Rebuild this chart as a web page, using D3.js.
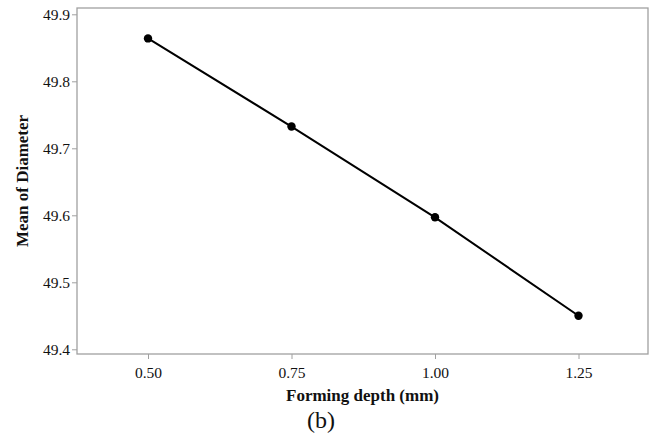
<!DOCTYPE html>
<html lang="en">
<head>
	<meta charset="utf-8">
	<title>Main effect plot</title>
	<script src="https://d3js.org/d3.v7.min.js"></script>
	<style>
		body { margin: 0; background: #fff; }
		svg text { font-family: "Liberation Serif", "Times New Roman", serif; fill: #111; }
	</style>
</head>
<body>
	<div id="chart"></div>
	<script>
		// forming depth levels and the mean diameter
		const depths = [0.50, 0.75, 1.00, 1.25];
		const meanDiameter = [49.864, 49.7325, 49.597, 49.45];
		const xTicks = ["0.50", "0.75", "1.00", "1.25"];
		const yTicks = [49.4, 49.5, 49.6, 49.7, 49.8, 49.9];

		const width = 657, height = 436;
		const frame = { left: 77, top: 8, right: 648, bottom: 354 };

		const svg = d3.select("#chart").append("svg")
			.attr("width", width)
			.attr("height", height);

		const x = d3.scaleLinear().domain([0.5, 1.25]).range([148, 578.5]);
		const y = d3.scaleLinear().domain([49.4, 49.9]).range([349.3, 14.3]);

		// plot frame
		svg.append("rect")
			.attr("x", frame.left)
			.attr("y", frame.top)
			.attr("width", frame.right - frame.left)
			.attr("height", frame.bottom - frame.top)
			.attr("fill", "none")
			.attr("stroke", "#a0a0a0")
			.attr("stroke-width", 1.3);

		const xAxis = svg.append("g")
			.attr("transform", `translate(0,${frame.bottom})`)
			.call(d3.axisBottom(x).tickValues(depths).tickFormat((d, i) => xTicks[i]).tickSize(5).tickPadding(8));
		const yAxis = svg.append("g")
			.attr("transform", `translate(${frame.left},0)`)
			.call(d3.axisLeft(y).tickValues(yTicks).tickFormat(d3.format(".1f")).tickSize(5).tickPadding(2));

		[xAxis, yAxis].forEach(g => {
			g.attr("font-family", null);
			g.select(".domain").remove();
			g.selectAll(".tick line").attr("stroke", "#a0a0a0");
			g.selectAll(".tick text")
				.attr("font-size", 15.5)
				.attr("fill", "#111");
		});

		const pts = depths.map((d, i) => ({ x: d, y: meanDiameter[i] }));

		svg.append("path")
			.datum(pts)
			.attr("fill", "none")
			.attr("stroke", "#000")
			.attr("stroke-width", 2)
			.attr("d", d3.line().x(d => x(d.x)).y(d => y(d.y)));

		svg.append("g")
			.selectAll("circle")
			.data(pts)
			.join("circle")
			.attr("cx", d => x(d.x))
			.attr("cy", d => y(d.y))
			.attr("r", 4.2)
			.attr("fill", "#000");

		svg.append("text")
			.attr("x", (frame.left + frame.right) / 2)
			.attr("y", 401)
			.attr("text-anchor", "middle")
			.attr("font-weight", "bold")
			.attr("font-size", 17)
			.text("Forming depth (mm)");

		svg.append("text")
			.attr("transform", `translate(28,${(frame.top + frame.bottom) / 2}) rotate(-90)`)
			.attr("text-anchor", "middle")
			.attr("font-weight", "bold")
			.attr("font-size", 17)
			.text("Mean of Diameter");

		svg.append("text")
			.attr("x", 321)
			.attr("y", 428)
			.attr("text-anchor", "middle")
			.attr("font-size", 24)
			.text("(b)");
	</script>
</body>
</html>
